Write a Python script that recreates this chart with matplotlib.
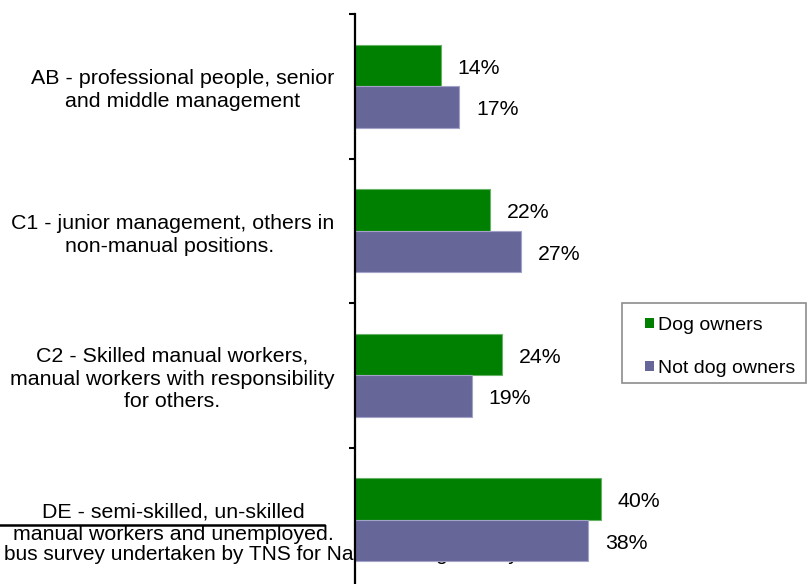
import matplotlib
matplotlib.use('Agg')
import matplotlib.pyplot as plt
from matplotlib.patches import Patch, Rectangle
from matplotlib.lines import Line2D
from matplotlib.transforms import ScaledTranslation

plt.rcParams['font.family'] = ['Liberation Sans', 'DejaVu Sans']

# 社会阶层分组
groups = ['AB - professional people, senior\nand middle management',
          'C1 - junior management, others in\nnon-manual positions. ',
          'C2 - Skilled manual workers,\nmanual workers with responsibility\nfor others.',
          'DE - semi-skilled, un-skilled\nmanual workers and unemployed.']
series = ['Dog owners', 'Not dog owners']
dog_owners = [14, 22, 24, 40]      # %
not_dog_owners = [17, 27, 19, 38]  # %
colors = ['#008000', '#666699']
edges = ['#66b366', '#a3a3c8']
source = 'bus survey undertaken by TNS for National Dog Survey'

W, H = 808, 584
fig = plt.figure(figsize=(W / 100, H / 100), dpi=100)
fig.patch.set_facecolor('white')

# 坐标轴位置(像素换算)
ax = fig.add_axes([355 / W, (H - 592) / H, 430 / W, 578 / H])
ax.patch.set_visible(False)

bh = 0.285
pos = list(range(len(groups)))
for vals, off, c, e in [(dog_owners, -0.143, colors[0], edges[0]),
                        (not_dog_owners, 0.143, colors[1], edges[1])]:
    ys = [p + off for p in pos]
    ax.barh(ys, vals, height=bh, color=c, edgecolor=e, linewidth=0.8, zorder=2)
    for y, v in zip(ys, vals):
        ax.annotate('%d%%' % v, xy=(v, y), xytext=(12, -2), textcoords='offset points',
                    ha='left', va='center', fontsize=15.3, color='black')

ax.set_xlim(0, 70)
ax.set_ylim(3.5, -0.5)
for s in ['top', 'right', 'bottom']:
    ax.spines[s].set_visible(False)
ax.spines['left'].set_linewidth(1.6)
ax.spines['left'].set_zorder(3)
ax.set_xticks([])

ax.set_yticks(pos)
ax.set_yticklabels(groups, fontsize=15.4, multialignment='center', linespacing=1.25)
# 标签整体上移一点
shift = ScaledTranslation(0, 2 / 100, fig.dpi_scale_trans)
for lab in ax.get_yticklabels():
    lab.set_transform(lab.get_transform() + shift)
ax.set_yticks([-0.5, 0.5, 1.5, 2.5, 3.5], minor=True)
ax.tick_params(axis='y', which='major', length=0, pad=15)
ax.tick_params(axis='y', which='minor', length=4, width=1.5, direction='out')

# 图例
fig.add_artist(Rectangle((622 / W, 1 - 383 / H), 184 / W, 80 / H, transform=fig.transFigure,
                         facecolor='white', edgecolor='#8c8c8c', linewidth=1.2, zorder=4))
handles = [Patch(facecolor=colors[0]), Patch(facecolor=colors[1])]
leg = fig.legend(handles, series, loc='upper left', bbox_to_anchor=(645 / W, 1 - 317 / H),
                 frameon=False, fontsize=14, handlelength=0.45, handleheight=0.45,
                 handletextpad=0.2, labelspacing=1.33, borderpad=0, borderaxespad=0)
leg.set_zorder(5)

# 底部说明文字和横线
fig.text(4 / W, 1 - 555 / H, source, fontsize=15, ha='left', va='center', zorder=-1)
fig.add_artist(Line2D([0, 324 / W], [1 - 525 / H, 1 - 525 / H], transform=fig.transFigure,
                      color='black', linewidth=1.8))

fig.savefig('out.png', dpi=100, facecolor='white')
